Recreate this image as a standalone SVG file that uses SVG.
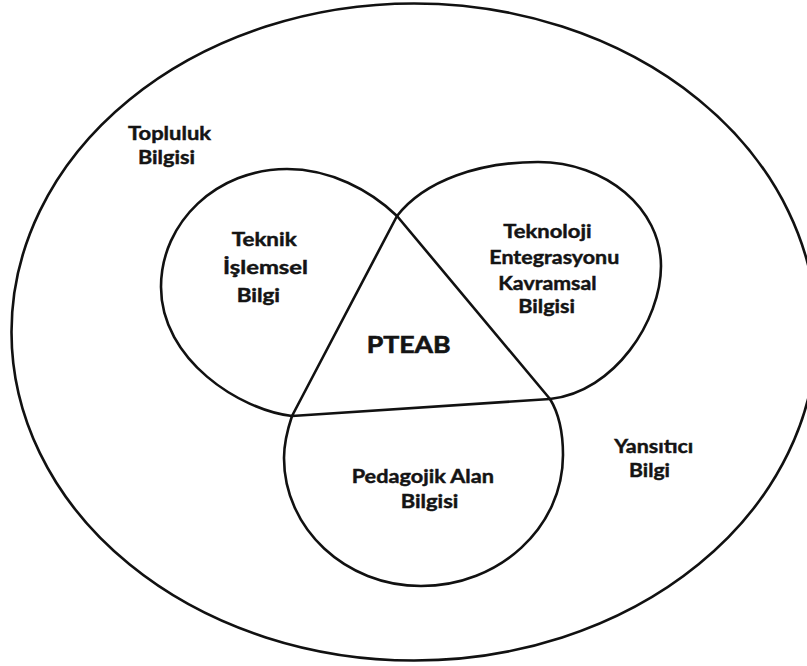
<svg xmlns="http://www.w3.org/2000/svg" width="807" height="666" viewBox="0 0 807 666">
  <style>
    .line { fill: none; stroke: #111; stroke-width: 2.6; stroke-linejoin: round; stroke-linecap: round; }
    .lbl { font-family: Lato, "Open Sans", "Liberation Sans", sans-serif; font-weight: 700; font-size: 19px; fill: #141414; stroke: #141414; stroke-width: 0.45; }
    .big { font-size: 23.5px; stroke-width: 0.6; }
  </style>
  <rect width="807" height="666" fill="#fff"/>

  <!-- Outer boundary: community knowledge -->
  <g id="outer">
    <ellipse class="line" cx="414" cy="332" rx="402.5" ry="328.5"/>
    <text class="lbl" x="128" y="140" textLength="83" lengthAdjust="spacingAndGlyphs">Topluluk</text>
    <text class="lbl" x="138" y="164" textLength="57" lengthAdjust="spacingAndGlyphs">Bilgisi</text>
  </g>

  <!-- Left lobe -->
  <g id="teknik">
    <path class="line" d="M292,416 C240,410 161,360 161,287 C161,222 217,169 287,169 C330,169 370,190 397,216"/>
    <text class="lbl" x="231.7" y="245.7" textLength="65" lengthAdjust="spacingAndGlyphs">Teknik</text>
    <text class="lbl" x="223" y="274" textLength="85" lengthAdjust="spacingAndGlyphs">İşlemsel</text>
    <text class="lbl" x="236.7" y="301.7" textLength="43.3" lengthAdjust="spacingAndGlyphs">Bilgi</text>
  </g>

  <!-- Right lobe -->
  <g id="teknoloji">
    <path class="line" d="M397,216 C425,180 480,162 538,162 C606,162 661,208.6 661,266 C661,320 615,392 550,399"/>
    <text class="lbl" x="503.3" y="238.3" textLength="88.3" lengthAdjust="spacingAndGlyphs">Teknoloji</text>
    <text class="lbl" x="489.3" y="264" textLength="130" lengthAdjust="spacingAndGlyphs">Entegrasyonu</text>
    <text class="lbl" x="498.3" y="290" textLength="98.3" lengthAdjust="spacingAndGlyphs">Kavramsal</text>
    <text class="lbl" x="518.3" y="313.3" textLength="56.7" lengthAdjust="spacingAndGlyphs">Bilgisi</text>
  </g>

  <!-- Bottom lobe -->
  <g id="pedagojik">
    <path class="line" d="M292,416 C288,428 284,444 284,458 C284,528.7 345.4,586 421,586 C499.4,586 563,527.3 563,455 C563,430 558,412 550,399"/>
    <text class="lbl" x="351.7" y="482.7" textLength="142.3" lengthAdjust="spacingAndGlyphs">Pedagojik Alan</text>
    <text class="lbl" x="400.7" y="508.3" textLength="57.7" lengthAdjust="spacingAndGlyphs">Bilgisi</text>
  </g>

  <!-- Central triangle -->
  <g id="pteab">
    <path class="line" d="M397,216 L292,416 L550,399 Z"/>
    <text class="lbl big" x="366.7" y="353.3" textLength="84" lengthAdjust="spacingAndGlyphs">PTEAB</text>
  </g>

  <!-- Reflective knowledge label in the outer ring -->
  <g id="yansitici">
    <text class="lbl" x="614.3" y="453.3" textLength="79" lengthAdjust="spacingAndGlyphs">Yansıtıcı</text>
    <text class="lbl" x="629" y="477" textLength="41" lengthAdjust="spacingAndGlyphs">Bilgi</text>
  </g>
</svg>
